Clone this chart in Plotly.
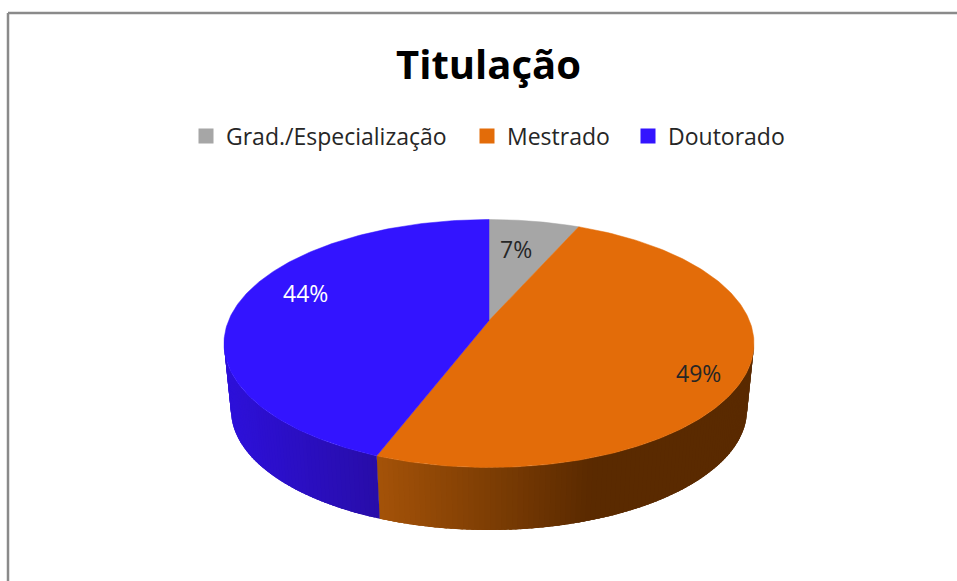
import numpy as np
import plotly.graph_objects as go

title = "Titulação"
categories = ["Grad./Especialização", "Mestrado", "Doutorado"]
values = [6.6, 49.2, 44.2]
labels = ["7%", "49%", "44%"]

top_colors = ["#a6a6a6", "#e36c09", "#3314ff"]
side_stops = [
    ((232, 590), ((120, 120, 120), (90, 90, 90))),
    ((381, 592), ((163, 82, 8), (90, 42, 0))),
    ((232, 378), ((45, 16, 216), (40, 13, 168))),
]
label_colors = ["#262626", "#262626", "#ffffff"]
label_xy = [(516, 249), (698, 373), (305, 293)]
legend_x = [186, 467, 628]

W, H = 957, 581
TOP = dict(cx=489, cy=343.5, rx=265, ry=124)
BOT = dict(cx=489, cy=410, rx=258, ry=120)
C = 23 / 124


def project(theta_deg, r, e):
    t = np.radians(theta_deg)
    u, v = r * np.sin(t), r * np.cos(t)
    d = 1 + C * v
    up = u * np.sqrt(1 - C ** 2) / d
    vp = (v + C) / d
    return e["cx"] + up * e["rx"], e["cy"] - vp * e["ry"]


def side_colour(x, stops):
    (x0, x1), (c0, c1) = stops
    f = float(np.clip((x - x0) / (x1 - x0), 0, 1))
    c = [round(a + (b - a) * f) for a, b in zip(c0, c1)]
    return f"rgb({c[0]},{c[1]},{c[2]})"


fig = go.Figure()
edges = np.concatenate([[0], np.cumsum(values)]) / sum(values) * 360

# side wall, built from the same slice angles; each strip overlaps the next so no seams show
for i in range(len(values)):
    steps = np.append(np.arange(edges[i], edges[i + 1], 1.0), edges[i + 1])
    for a, b in zip(steps[:-1], steps[1:]):
        xa, ya = project(a, 1, TOP)
        xb, yb = project(b, 1, TOP)
        if max(ya, yb) < TOP["cy"] - 2:
            continue
        end = min(b + 1.5, edges[i + 1])
        th = np.linspace(a, end, 4)
        xt, yt = project(th, 1, TOP)
        xl, yl = project(th[::-1], 1, BOT)
        col = side_colour((xa + xb) / 2, side_stops[i])
        fig.add_trace(go.Scatter(
            x=np.r_[xt, xl, xt[0]], y=np.r_[yt, yl, yt[0]], mode="lines",
            fill="toself", fillcolor=col, line=dict(color=col, width=0),
            showlegend=False, hoverinfo="skip"))

# top faces
for i in range(len(values)):
    th = np.linspace(edges[i], edges[i + 1], 200)
    xs, ys = project(th, 1, TOP)
    x0, y0 = project(0.0, 0, TOP)
    fig.add_trace(go.Scatter(
        x=np.r_[x0, xs, x0], y=np.r_[y0, ys, y0], mode="lines", fill="toself",
        fillcolor=top_colors[i], line=dict(color=top_colors[i], width=0.5),
        showlegend=False, hoverinfo="skip"))

# legend entries, one positioned legend each
legend_names = ["legend", "legend2", "legend3"]
for name, col, lg in zip(categories, top_colors, legend_names):
    fig.add_trace(go.Scatter(
        x=[None], y=[None], mode="markers", name=name, legend=lg, showlegend=True,
        marker=dict(symbol="square", size=15, color=col)))

annotations = [
    dict(x=x, y=y, xref="x", yref="y", text=t, showarrow=False,
         font=dict(family="Open Sans", size=23, color=c))
    for (x, y), t, c in zip(label_xy, labels, label_colors)
]

frame = dict(color="#8a8a8a", width=2.5)
legend_layout = {
    lg: dict(x=x / W, xanchor="left", y=1 - 136 / H, yanchor="middle",
             font=dict(family="Open Sans", size=23, color="#262626"),
             bgcolor="rgba(0,0,0,0)")
    for lg, x in zip(legend_names, legend_x)
}
fig.update_layout(
    width=W, height=H, autosize=False,
    margin=dict(l=0, r=0, t=0, b=0),
    paper_bgcolor="white", plot_bgcolor="white",
    title=dict(text=title, x=488.5 / W, xanchor="center", y=1 - 65 / H, yanchor="middle",
               font=dict(family="Open Sans", size=40, color="#000000", weight="bold")),
    xaxis=dict(range=[0, W], visible=False, fixedrange=True),
    yaxis=dict(range=[H, 0], visible=False, fixedrange=True),
    annotations=annotations,
    shapes=[
        dict(type="line", xref="x", yref="y", x0=8, y0=13, x1=W, y1=13, line=frame),
        dict(type="line", xref="x", yref="y", x0=8, y0=13, x1=8, y1=H, line=frame),
    ],
    **legend_layout,
)
fig.write_html("out.html", config=dict(displayModeBar=False),
               post_script="document.body.style.margin='0';document.body.style.overflow='hidden';")
